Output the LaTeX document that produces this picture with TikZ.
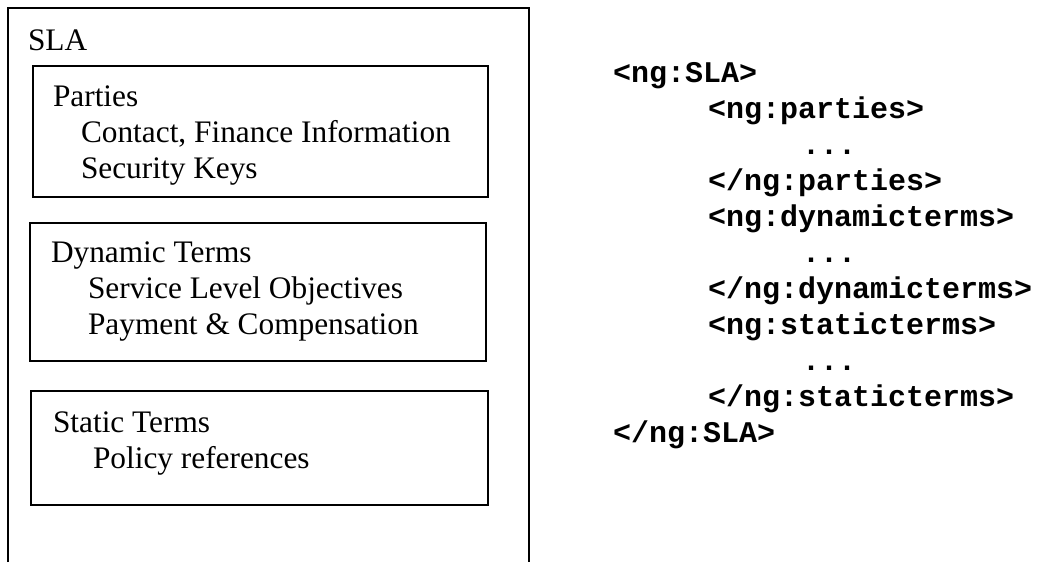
\documentclass[tikz,border=0pt]{standalone}
\usepackage{fontspec}
\setmainfont{Liberation Serif}
\setmonofont{Liberation Mono}
\begin{document}
\begin{tikzpicture}[x=0.75pt, y=-0.75pt, line width=1.5pt,
    lbl/.style={anchor=base west, inner sep=0pt, font=\fontsize{23.5}{28}\selectfont},
    tag/.style={anchor=base west, inner sep=0pt, font=\fontsize{22.5}{27}\selectfont\ttfamily\bfseries}]
        \useasboundingbox (0,0) rectangle (1056,562);
        % outer SLA frame, open at the bottom
        \draw (8,562) -- (8,8) -- (529,8) -- (529,562);
        \draw (33,66) rectangle (488,197);
        \draw (30,223) rectangle (486,361);
        \draw (31,391) rectangle (488,505);

        \node[lbl] (sla) at (27,50) {SLA};
        \node[lbl] (parties) at (52,106) {Parties};
        \node[lbl] (contact) at (80,142) {Contact, Finance Information};
        \node[lbl] (keys) at (80,178) {Security Keys};
        \node[lbl] (dynamic) at (50,262) {Dynamic Terms};
        \node[lbl] (slo) at (87,298) {Service Level Objectives};
        \node[lbl] (payment) at (87,334) {Payment \& Compensation};
        \node[lbl] (static) at (52,432) {Static Terms};
        \node[lbl] (policy) at (92,468) {Policy references};

        \node[tag] (slaopen) at (612,82) {<ng:SLA>};
        \node[tag] (partopen) at (707,118) {<ng:parties>};
        \node[tag] (partdots) at (801,154) {...};
        \node[tag] (partclose) at (707,190) {</ng:parties>};
        \node[tag] (dynopen) at (707,226) {<ng:dynamicterms>};
        \node[tag] (dyndots) at (801,262) {...};
        \node[tag] (dynclose) at (707,298) {</ng:dynamicterms>};
        \node[tag] (statopen) at (707,334) {<ng:staticterms>};
        \node[tag] (statdots) at (801,370) {...};
        \node[tag] (statclose) at (707,406) {</ng:staticterms>};
        \node[tag] (slaclose) at (612,442) {</ng:SLA>};
    \end{tikzpicture}
\end{document}
